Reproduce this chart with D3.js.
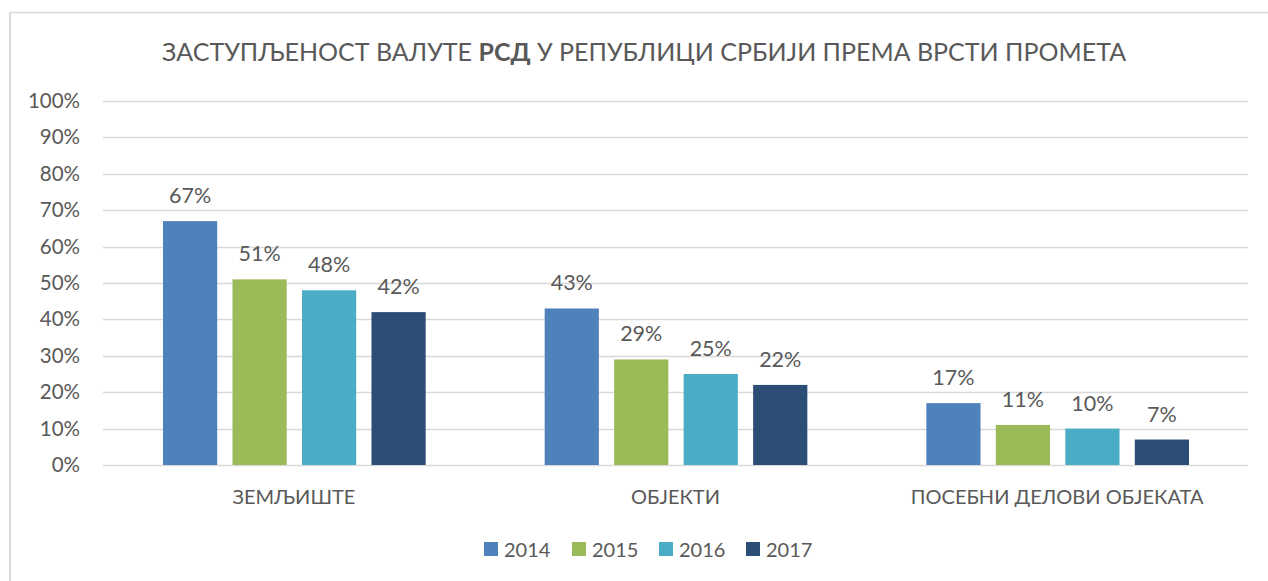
<!DOCTYPE html>
<html><head><meta charset="utf-8">
<script src="https://cdn.jsdelivr.net/npm/d3@7"></script>
<style>body{margin:0;background:#fff}svg{display:block}text{font-family:Lato,"Open Sans",sans-serif;fill:#595959}</style>
</head><body><svg id="c" width="1268" height="581"></svg>
<script>
const categories = ["ЗЕМЉИШТЕ", "ОБЈЕКТИ", "ПОСЕБНИ ДЕЛОВИ ОБЈЕКАТА"];
const years = ["2014", "2015", "2016", "2017"];
const v2014 = [67, 43, 17];
const v2015 = [51, 29, 11];
const v2016 = [48, 25, 10];
const v2017 = [42, 22, 7];
const yTicks = [0,10,20,30,40,50,60,70,80,90,100];
const colors = ["#4f81bd", "#9bbb59", "#4bacc6", "#2c4d75"];

const series = [v2014, v2015, v2016, v2017];
const svg = d3.select("#c");
// chart border
svg.append("line").attr("x1",9).attr("x2",1268).attr("y1",12.5).attr("y2",12.5).attr("stroke","#d9d9d9").attr("stroke-width",1.5);
svg.append("line").attr("x1",10).attr("x2",10).attr("y1",12).attr("y2",581).attr("stroke","#d9d9d9").attr("stroke-width",2);

const L=103, R=1248, T=101, B=465;
const x0 = d3.scaleBand().domain(categories).range([L,R]).paddingInner(0).paddingOuter(0);
const x1 = d3.scaleBand().domain(years).range([60, x0.bandwidth()-59]).paddingInner(0.22).paddingOuter(0);
const y = d3.scaleLinear().domain([0,100]).range([B,T]);

// gridlines
svg.append("g").selectAll("line").data(yTicks).join("line")
  .attr("x1",L).attr("x2",R).attr("y1",d=>Math.round(y(d))+0.5).attr("y2",d=>Math.round(y(d))+0.5)
  .attr("stroke","#d9d9d9").attr("stroke-width",1.5);

// y axis labels
const yAxis = d3.axisLeft(y).tickValues(yTicks).tickFormat(d=>d+"%").tickSize(0).tickPadding(0);
const ga = svg.append("g").attr("transform",`translate(80,0)`).call(yAxis);
ga.select(".domain").remove();
ga.selectAll("text").style("font-size","20.5px").attr("fill","#595959").style("font-family","Lato");

// bars
const groups = svg.append("g").selectAll("g").data(categories).join("g")
  .attr("transform",d=>`translate(${x0(d)},0)`);
years.forEach((yr,si)=>{
  groups.append("rect")
    .attr("x",x1(yr)).attr("width",x1.bandwidth())
    .attr("y",(d,i)=>y(series[si][i])).attr("height",(d,i)=>B-y(series[si][i]))
    .attr("fill",colors[si]);
  groups.append("text")
    .attr("x",x1(yr)+x1.bandwidth()/2).attr("y",(d,i)=>y(series[si][i])-18)
    .attr("text-anchor","middle").style("font-size","21.5px")
    .text((d,i)=>series[si][i]+"%");
});

// x axis labels
const xAxis = d3.axisBottom(x0).tickSize(0).tickPadding(0);
const gx = svg.append("g").attr("transform",`translate(0,${B+39})`).call(xAxis);
gx.select(".domain").remove();
gx.selectAll("text").style("font-size","20px").attr("fill","#595959").style("font-family","Lato").attr("dy","0");

// title
const title = svg.append("text").attr("x",644).attr("y",61).attr("text-anchor","middle").style("font-size","25px");
title.append("tspan").text("ЗАСТУПЉЕНОСТ ВАЛУТЕ ");
title.append("tspan").style("font-weight","bold").text("РСД");
title.append("tspan").text(" У РЕПУБЛИЦИ СРБИЈИ ПРЕМА ВРСТИ ПРОМЕТА");

// legend
const lx = [484, 572, 659, 746];
const lg = svg.append("g").selectAll("g").data(years).join("g").attr("transform",(d,i)=>`translate(${lx[i]},542)`);
lg.append("rect").attr("width",14).attr("height",14).attr("y",0).attr("fill",(d,i)=>colors[i]);
lg.append("text").attr("x",20).attr("y",15).style("font-size","20px").text(d=>d);
</script></body></html>
